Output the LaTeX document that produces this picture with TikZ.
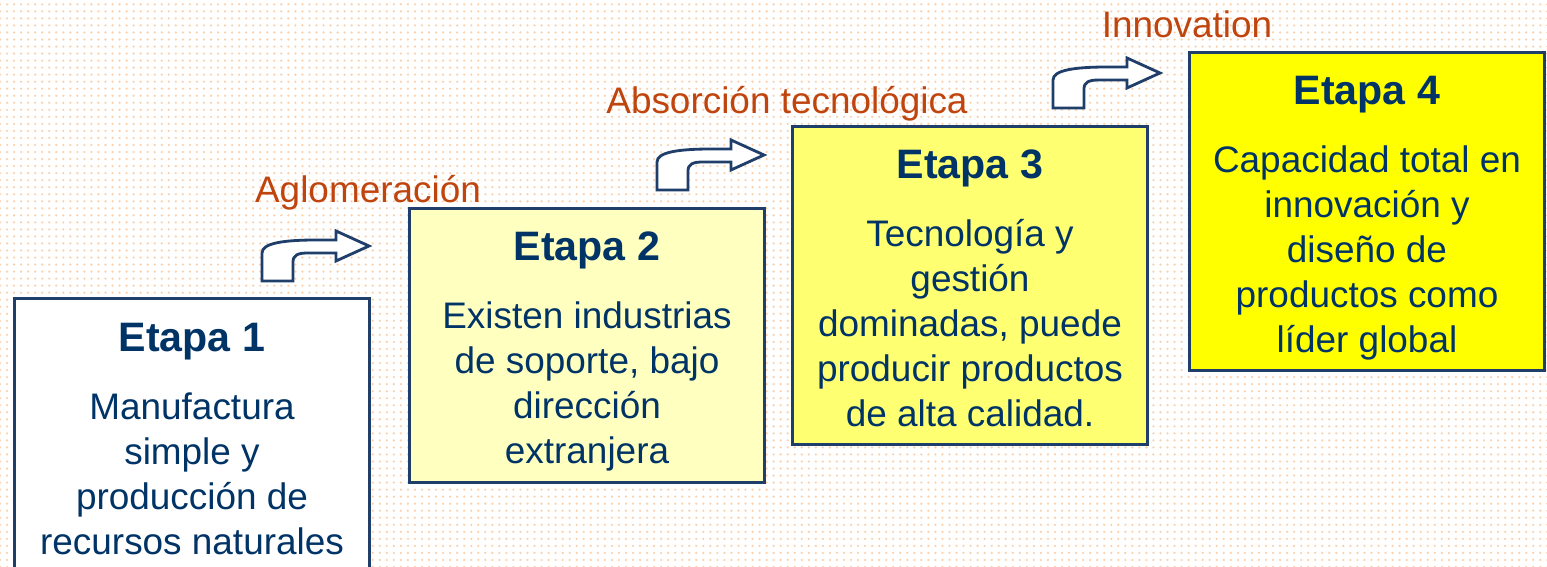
\documentclass[tikz,border=0pt]{standalone}
\usepackage{fontspec}
\setmainfont{Liberation Sans}
\usetikzlibrary{patterns,positioning}
\definecolor{EtBlau}{HTML}{1F3F6A}
\definecolor{EtText}{HTML}{003366}
\definecolor{EtOrange}{HTML}{C0440E}
\definecolor{EtPunkt}{HTML}{FAD2B0}
\definecolor{EtGelbA}{HTML}{FFFFC0}
\definecolor{EtGelbB}{HTML}{FFFF72}
\definecolor{EtGelbC}{HTML}{FFFF00}
\pgfdeclarepatternformonly{bgdots}{\pgfqpoint{-1pt}{-1pt}}{\pgfqpoint{1pt}{1pt}}%
  {\pgfqpoint{2pt}{2pt}}%
  {\pgfpathcircle{\pgfqpoint{0pt}{0pt}}{0.36pt}\pgfusepath{fill}}
\newcommand{\titel}{\fontsize{11.7}{14}\selectfont\bfseries}
\newcommand{\pasopfeil}[1]{%
  \draw[EtBlau, line width=0.8pt, fill=white, shift={(#1)}]
  (0,0) -- (0,28) .. controls (0,38) and (22,41) .. (55,41) -- (74,41)
  -- (74,50) -- (107,35) -- (74,20) -- (74,28) -- (46,28)
  .. controls (36,28) and (31,26) .. (31,19) -- (31,0) -- cycle;}

\begin{document}
\begin{tikzpicture}[x=0.01cm, y=0.01cm,
  etapabox/.style={draw=EtBlau, line width=0.8pt, anchor=north west,
    minimum width=3.55cm, inner sep=0pt},
  etapatext/.style={anchor=north, align=center, text=EtText, inner sep=0pt,
    font=\fontsize{10.5}{12.8}\selectfont},
  pasolabel/.style={anchor=base, text=EtOrange, inner sep=0pt,
    font=\fontsize{10.5}{12.8}\selectfont}]

% ====================================================================
%
%         Hintergrund
%
% ====================================================================

  \useasboundingbox (0,0) rectangle (1547,567);
  \fill[white] (0,0) rectangle (1547,567);
  \fill[pattern=bgdots, pattern color=EtPunkt] (0,0) rectangle (1547,567);
  \clip (0,0) rectangle (1547,567);

% ====================================================================
%
%         Etapas
%
% ====================================================================

  % Etapa 1
  \node[etapabox, fill=white, minimum height=2.9cm] (etapa1) at (13,270) {};
  \node[etapatext] (text1) at ([yshift=-0.25cm]etapa1.north)
    {{\titel Etapa 1}\\[6.6pt]
     Manufactura\\ simple y\\ producción de\\ recursos naturales};

  % Etapa 2
  \node[etapabox, fill=EtGelbA, minimum height=2.74cm] (etapa2) at (408,360) {};
  \node[etapatext] (text2) at ([yshift=-0.24cm]etapa2.north)
    {{\titel Etapa 2}\\[6.6pt]
     Existen industrias\\ de soporte, bajo\\ dirección\\ extranjera};

  % Etapa 3
  \node[etapabox, fill=EtGelbB, minimum height=3.18cm] (etapa3) at (791,442) {};
  \node[etapatext] (text3) at ([yshift=-0.24cm]etapa3.north)
    {{\titel Etapa 3}\\[6.6pt]
     Tecnología y\\ gestión\\ dominadas, puede\\ producir productos\\ de alta calidad.};

  % Etapa 4
  \node[etapabox, fill=EtGelbC, minimum height=3.18cm] (etapa4) at (1188,516) {};
  \node[etapatext] (text4) at ([yshift=-0.24cm]etapa4.north)
    {{\titel Etapa 4}\\[6.6pt]
     Capacidad total en\\ innovación y\\ diseño de\\ productos como\\ líder global};

% ====================================================================
%
%         Pfeile
%
% ====================================================================

  % Pfeil 1 -> 2
  \pasopfeil{262,286}
  \node[pasolabel] (paso1) at (368,364) {Aglomeración};

  % Pfeil 2 -> 3
  \pasopfeil{657,377}
  \node[pasolabel] (paso2) at (787,453) {Absorción tecnológica};

  % Pfeil 3 -> 4
  \pasopfeil{1053,459}
  \node[pasolabel] (paso3) at (1187,529) {Innovation};

\end{tikzpicture}
\end{document}
